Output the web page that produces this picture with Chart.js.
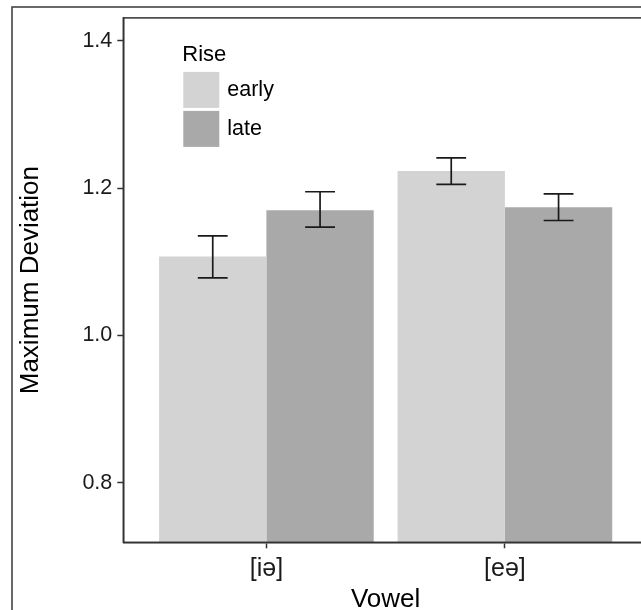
<!DOCTYPE html>
<html>
<head>
<meta charset="utf-8">
<title>Maximum Deviation by Vowel</title>
<script src="https://cdn.jsdelivr.net/npm/chart.js@4.4.0/dist/chart.umd.min.js"></script>
<style>
  html, body { margin: 0; padding: 0; background: #fff; overflow: hidden; }
  /* the figure runs past the right and bottom edge of the window, like the reference */
  #wrap { position: absolute; left: 0; top: 0; width: 660px; height: 630px; }
</style>
</head>
<body>
<div id="wrap"><canvas id="chart"></canvas></div>
<script>
// values
const vowels = ['[iə]', '[eə]'];
const riseLabels = ['early', 'late'];
const earlyMean = [1.107, 1.223];
const lateMean = [1.170, 1.174];
const earlyLow = [1.078, 1.205];
const earlyHigh = [1.135, 1.241];
const lateLow = [1.147, 1.156];
const lateHigh = [1.195, 1.192];
const yTicks = [0.8, 1.0, 1.2, 1.4];
const yTickLabels = ['0.8', '1.0', '1.2', '1.4'];

const FONT = '"Liberation Sans", Arial, Helvetica, sans-serif';
Chart.defaults.font.family = FONT;

const toPoints = (arr) => arr.map((v, i) => ({ x: i + 1, y: v }));

/**
 * 誤差線：依各長條元素的位置畫出
 */
const errorBars = {
  id: 'errorBars',
  afterDatasetsDraw(chart) {
    const { ctx } = chart;
    const yScale = chart.scales.y;
    chart.data.datasets.forEach((ds, di) => {
      const meta = chart.getDatasetMeta(di);
      meta.data.forEach((bar, i) => {
        const lo = yScale.getPixelForValue(ds.errLow[i]);
        const hi = yScale.getPixelForValue(ds.errHigh[i]);
        const half = bar.width * 0.139;
        ctx.save();
        ctx.strokeStyle = '#1a1a1a';
        ctx.lineWidth = 1.7;
        ctx.beginPath();
        ctx.moveTo(bar.x, lo); ctx.lineTo(bar.x, hi);
        ctx.moveTo(bar.x - half, lo); ctx.lineTo(bar.x + half, lo);
        ctx.moveTo(bar.x - half, hi); ctx.lineTo(bar.x + half, hi);
        ctx.stroke();
        ctx.restore();
      });
    });
  }
};

/**
 * 外框 + 面板邊框
 */
const frames = {
  id: 'frames',
  beforeDraw(chart) {
    const { ctx, width, height } = chart;
    ctx.save();
    ctx.fillStyle = '#fff';
    ctx.fillRect(0, 0, width, height);
    ctx.restore();
  },
  afterDraw(chart) {
    const { ctx, chartArea, width, height } = chart;
    ctx.save();
    ctx.strokeStyle = '#444';
    ctx.lineWidth = 1.6;
    ctx.strokeRect(12, 7, width, height);
    ctx.strokeStyle = '#333';
    ctx.lineWidth = 1.5;
    ctx.strokeRect(chartArea.left, chartArea.top, chartArea.right - chartArea.left, chartArea.bottom - chartArea.top);
    ctx.restore();
  }
};

/**
 * 面板內的圖例（Rise）
 */
const insideLegend = {
  id: 'insideLegend',
  afterDraw(chart) {
    const { ctx, chartArea } = chart;
    const x0 = chartArea.left + 59;
    const y0 = chartArea.top + 28;
    ctx.save();
    ctx.font = '22px ' + FONT;
    ctx.fillStyle = '#000';
    ctx.textBaseline = 'alphabetic';
    ctx.fillText('Rise', x0, y0 + 15);
    ctx.font = '21.5px ' + FONT;
    chart.data.datasets.forEach((ds, i) => {
      const top = y0 + 26 + i * 39;
      ctx.fillStyle = ds.backgroundColor;
      ctx.fillRect(x0 + 1, top, 36, 36);
      ctx.fillStyle = '#000';
      ctx.textBaseline = 'middle';
      ctx.fillText(ds.label, x0 + 45, top + 18);
    });
    ctx.restore();
  }
};

new Chart(document.getElementById('chart'), {
  type: 'bar',
  data: {
    datasets: [
      {
        label: riseLabels[0],
        data: toPoints(earlyMean),
        errLow: earlyLow,
        errHigh: earlyHigh,
        backgroundColor: '#d3d3d3',
        borderWidth: 0
      },
      {
        label: riseLabels[1],
        data: toPoints(lateMean),
        errLow: lateLow,
        errHigh: lateHigh,
        backgroundColor: '#a9a9a9',
        borderWidth: 0
      }
    ]
  },
  options: {
    responsive: true,
    maintainAspectRatio: false,
    animation: false,
    devicePixelRatio: 1,
    categoryPercentage: 0.9,
    barPercentage: 1.0,
    layout: { padding: { left: 12, top: 15, right: 12, bottom: 0 } },
    plugins: {
      legend: { display: false },
      tooltip: { enabled: false }
    },
    scales: {
      x: {
        type: 'linear',
        offset: false,
        min: 0.4,
        max: 2.6,
        afterBuildTicks: (s) => { s.ticks = vowels.map((v, i) => ({ value: i + 1 })); },
        afterFit: (s) => { s.height = 87.7; },
        ticks: {
          callback: (v) => vowels[Math.round(v) - 1],
          font: { size: 25 },
          color: '#1a1a1a',
          padding: 6,
          maxRotation: 0,
          autoSkip: false
        },
        grid: { offset: false, drawOnChartArea: false, tickLength: 6, tickColor: '#333', tickWidth: 1.5 },
        border: { color: '#333', width: 1.5 },
        title: {
          display: true,
          text: 'Vowel',
          font: { size: 26 },
          color: '#000',
          padding: { top: 0, bottom: 14.4 }
        }
      },
      y: {
        min: 0.7193,
        max: 1.4309,
        afterBuildTicks: (s) => { s.ticks = yTicks.map(v => ({ value: v })); },
        afterFit: (s) => { s.width = 111.3; },
        ticks: {
          callback: (v) => yTickLabels[yTicks.findIndex(t => Math.abs(t - v) < 1e-6)],
          font: { size: 21.5 },
          color: '#1a1a1a',
          padding: 5
        },
        grid: { drawOnChartArea: false, tickLength: 6, tickColor: '#333', tickWidth: 1.5 },
        border: { color: '#333', width: 1.5 },
        title: {
          display: true,
          text: 'Maximum Deviation',
          font: { size: 26 },
          color: '#000',
          padding: { top: 3, bottom: 0 }
        }
      }
    }
  },
  plugins: [frames, errorBars, insideLegend]
});
</script>
</body>
</html>
